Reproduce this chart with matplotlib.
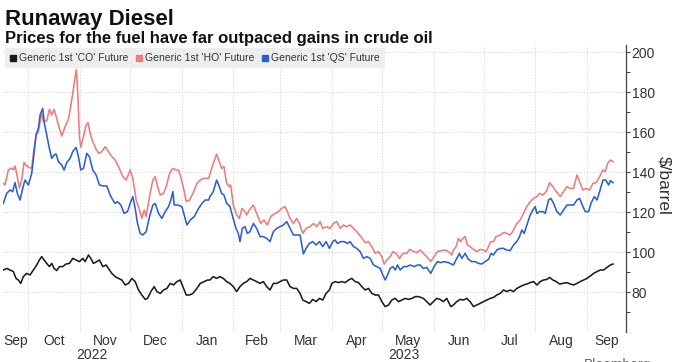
import numpy as np
import pandas as pd
import matplotlib
matplotlib.use('Agg')
import matplotlib.pyplot as plt
from matplotlib.lines import Line2D
from matplotlib import font_manager

# ---------------- data (days after 2022-09-15, $/barrel) ----------------
START = pd.Timestamp('2022-09-15')

ho_days = [1.2, 2.2, 4.2, 6.2, 7.2, 8.2, 9.2, 10.8, 12.2, 13.6, 15.2, 17.2, 18.2, 19.2, 20.8, 22.2,
           23.2, 24.2, 25.2, 27.2, 28.8, 30.2, 31.6, 33.2, 34.8, 36.2, 38.2, 40.2, 41.2, 42.8, 44.2,
           45.0, 45.8, 46.8, 47.6, 49.2, 50.8, 52.0, 53.2, 54.8, 56.8, 58.4, 60.2, 62.2, 64.2, 66.2,
           68.2, 70.2, 72.8, 74.8, 77.2, 78.8, 80.8, 82.8, 84.2, 85.6, 86.8, 88.8, 90.8, 92.2, 93.6,
           95.2, 97.2, 98.8, 100.8, 102.8, 104.8, 106.2, 107.2, 109.2, 110.8, 112.8, 114.8, 117.2,
           119.2, 121.2, 124.2,
           127, 129, 130.6, 132, 133.4, 135, 136.6, 137.4, 139, 141, 142.6, 144.2, 146, 147, 148.6,
           151, 153, 155.4, 157.4, 159.4, 161.4, 164, 166, 168, 170, 171.4, 173, 175, 177, 178.6,
           180.6, 182.6, 185, 187, 189, 191, 192.6, 195, 197, 199, 201, 203, 205, 207, 209, 211, 213,
           215.4, 218, 220, 222, 224, 226, 228, 229.4, 231, 233, 234.6, 236.6, 238.6, 240.6, 243,
           244.6, 247, 249,
           250.9, 252.9, 254.9, 257.3, 259.3, 261.3, 263.9, 265.9, 267.9, 269.9, 270.9, 272.5, 273.9,
           275.3, 276.5, 277.9, 279.3, 280.9, 282.9, 284.9, 286.9, 288.9, 290.5, 291.9, 293.3, 294.9,
           296.5, 298.9, 300.9, 302.9, 304.9, 306.9, 308.9, 310.9, 312.9, 314.9, 316.9, 318.9, 320.9,
           322.5, 324.5, 326.5, 328.5, 330.5, 332.5, 334.9, 336.9, 338.9, 340.9, 342.9, 344.9, 346.5,
           348.5, 350.5, 352.5, 354.5, 356.5, 358.5, 360.5, 361.9, 363.3, 364.9, 366.5]
ho_vals = [134.3, 133.5, 141, 142, 141, 143, 139.3, 132, 136, 144.7, 143, 142, 142, 149.3, 158.5, 160.2,
           165, 169.3, 165.2, 165.5, 171.3, 168.5, 171.3, 166.8, 161.8, 158, 162.7, 166.3, 171, 179.3, 187.7,
           191.3, 179.3, 157.7, 152.3, 157.7, 163.5, 164.7, 159.3, 155.2, 151.3, 149.3, 150.2, 152.7, 150.2, 147.7,
           146, 142.7, 137.7, 136, 141, 136.8, 126, 121, 116.8, 121, 117.7, 127.7, 136, 137.7, 132.7,
           128.5, 129.3, 132.7, 139.3, 141.8, 141, 141, 138.5, 131.8, 125.2, 126, 129.3, 134.3,
           136, 136.8, 136.8,
           144.3, 149, 145.2, 141.8, 142.7, 134.3, 132.7, 133.5, 123.5, 118.5, 116.8, 121.8, 120.2, 118.5, 121,
           123.5, 119.3, 114.3, 116, 113.5, 117.7, 119.3, 120.2, 121.8, 122.7, 120.2, 116.8, 114.3, 116.8, 114.3,
           109.3, 111.8, 112.7, 114.3, 112.7, 115.2, 111.8, 112.7, 111.8, 114.3, 115.2, 111.8, 113.5, 112.7, 113.5, 111.8, 110.2,
           107.7, 104.7, 105.2, 102.7, 99.3, 100.2, 97.7, 94, 96, 97.7, 100.2, 99.3, 96.8, 99.3, 99.3,
           101.3, 100.2, 99.7,
           101, 99.3, 97.7, 95.2, 97.7, 100.2, 100.7, 101, 100.2, 98.5, 101, 102.7, 106.8,
           105.2, 106.8, 107.7, 103.5, 102.7, 101.3, 100.2, 101.3, 101, 100.2, 102.7, 105.2, 105.2,
           107.7, 108.5, 109.7, 109.3, 108.5, 111, 114.3, 116, 119.3, 122.7, 125.2, 126.8, 127.7,
           129.3, 128.5, 130.2, 134.7, 132.7, 130.2, 127.7, 130.2, 132.7, 131.8, 131.8, 138.5, 135.2,
           131, 131.8, 131, 134.3, 134.7, 137.7, 141, 140.2, 144.3, 146, 145.2]

qs_days = [1.2, 3.2, 5.2, 6.8, 8.2, 9.6, 11.2, 12.8, 14.2, 16.2, 18.2, 19.6, 20.8, 22.2, 23.2, 24.8,
           25.8, 27.2, 28.8, 30.2, 31.6, 32.8, 34.2, 36.2, 37.6, 39.2, 41.2, 42.8, 44.8, 46.2, 47.6,
           49.2, 51.2, 52.8, 54.8, 56.8, 58.8, 61.2, 63.2, 65.2, 66.8, 68.2, 69.6, 71.6, 73.6, 75.6,
           77.2, 78.8, 80.2, 81.6, 83.2, 84.8, 86.8, 88.8, 90.8, 92.2, 94.2, 96.2, 98.2, 100.2, 101.6,
           102.8, 103.6, 105.6, 108.2, 109.6, 111.2, 113.2, 115.6, 118.2, 120.2, 122.2, 124.2,
           125, 127, 129, 130.6, 132, 133.4, 135, 137, 138.6, 140.6, 142, 143, 144.4, 146, 147.4, 149,
           151, 153, 155, 157, 159, 161, 163, 165, 167, 169, 171, 173, 175, 177, 179, 181, 182.6,
           184.6, 186.6, 188.6, 190.6, 192.6, 194.6, 196.6, 198.6, 200, 201.4, 203.4, 205.4, 207.4,
           209, 211, 213, 215, 217, 219, 221, 223, 225, 227, 228.6, 230, 231.4, 233, 234.6, 236,
           237.4, 239, 241, 243, 245, 247.4, 249.4,
           250.9, 252.9, 254.9, 257.3, 259.3, 261.3, 263.3, 265.3, 267.9, 270.9, 272.9, 274.5, 275.9,
           277.9, 279.9, 281.9, 283.9, 285.9, 287.9, 289.9, 291.9, 293.5, 294.9, 296.9, 298.9, 300.9,
           302.9, 304.9, 306.9, 308.9, 310.5, 311.9, 313.3, 314.9, 316.9, 318.5, 319.9, 320.9, 322.5,
           324.5, 325.9, 327.9, 329.3, 330.9, 332.9, 334.9, 336.9, 338.9, 340.9, 342.9, 344.9, 346.5,
           348.5, 349.9, 351.9, 353.3, 355.3, 356.9, 358.5, 360.5, 362.1, 363.9, 364.9, 366.5]
qs_vals = [124.3, 129.3, 131, 130.2, 134.7, 129.3, 126, 131.8, 136, 133.5, 139.3, 149.3, 158.5, 161.8, 168.5, 171.8,
           164.3, 158.5, 151.8, 146.8, 148.5, 149, 145.2, 143.5, 141, 144.7, 146.8, 150.2, 152.3, 147.7, 141,
           141.8, 149.3, 147.7, 141, 138.5, 133.5, 133, 133, 128.5, 126, 124.3, 125.2, 123.5, 119.3, 120.2,
           124.3, 127.7, 121.8, 114.3, 109.3, 108.5, 110.2, 117.7, 123.5, 124.3, 119.3, 116.8, 120.2, 122.7, 126,
           130.2, 123.5, 123.5, 122.7, 118.5, 113.5, 116, 117.7, 121.8, 124.3, 126, 126,
           127.7, 130.2, 136, 132.7, 129.3, 128.5, 124.3, 122.7, 117.7, 111.8, 109.3, 105.2, 111.8, 112.7, 109.3, 110.2,
           114.3, 111.8, 107.7, 107.7, 106.8, 105.2, 110.2, 111.8, 112.7, 113.5, 115.2, 111.8, 108.5, 108.5, 108.5, 99, 101.8,
           104.3, 105.2, 103.5, 105.2, 102.7, 105.2, 101.8, 105.2, 106, 104.3, 105.2, 105.2, 104.3,
           105.2, 102.7, 101.8, 100.2, 96.8, 97.7, 96.8, 93.5, 92.7, 91.8, 88.5, 86, 88.5, 91.8, 92.7, 91,
           93.5, 91, 92.7, 92.7, 93.5, 92.7, 93.5,
           93.5, 91.8, 92.3, 89.3, 92.7, 95.2, 94.7, 95.2, 94.7, 93.5, 96.8, 99.3, 96.8,
           99.3, 96.3, 95.2, 95.2, 94.3, 94, 95.2, 96.3, 99.3, 98.5, 101, 101.8, 101.8,
           101, 100.7, 103.5, 105.2, 107.7, 111, 109.3, 113.5, 118.5, 121, 122.7, 119.3, 120.2,
           120.2, 119.3, 126, 126.8, 124.3, 120.2, 118.5, 121, 123.5, 123.5, 123.5, 126, 126.8,
           122.7, 120.2, 120.2, 124.3, 127.7, 126, 130.2, 136, 136, 133.5, 135.7, 134.7]

co_days = [1.2, 3.2, 5.2, 7.2, 8.8, 10.2, 11.6, 13.2, 15.2, 17.2, 19.2, 21.2, 22.8, 24.2, 25.6, 27.2,
           28.8, 30.2, 31.6, 33.2, 34.8, 36.8, 38.8, 40.8, 42.8, 44.8, 46.8, 48.8, 50.2, 52.2, 53.6,
           55.2, 57.2, 58.8, 60.8, 62.8, 64.2, 66.2, 68.2, 70.2, 72.2, 74.2, 76.2, 78.2, 80.2, 82.2,
           84.2, 86.2, 87.6, 89.6, 91.6, 93.2, 95.2, 97.2, 99.2, 101.2, 103.2, 105.2, 107.2, 108.8,
           110.8, 112.8, 114.8, 117.2, 119.2, 121.6, 123.6,
           125, 127, 129, 131, 133, 135, 137, 139, 141, 143, 145, 147, 149, 151, 153, 155, 157, 159,
           161, 163, 165, 167, 169, 171, 173, 175, 177, 179, 180.6, 182.6, 184.6, 186.6, 188.6, 190.6,
           192.6, 194.6, 196.6, 198, 200, 202, 204, 206, 208, 210, 212, 214, 216, 218, 220, 222, 224,
           226, 228, 230, 232, 234, 236, 238, 240, 242, 244, 246, 248, 250,
           252.9, 254.9, 256.9, 258.9, 260.9, 262.9, 264.9, 266.9, 269.3, 270.9, 272.9, 274.9, 276.9,
           278.9, 280.9, 282.9, 284.9, 286.9, 288.9, 290.9, 292.9, 294.9, 296.9, 298.9, 300.9, 302.9,
           304.9, 306.9, 308.9, 310.9, 312.9, 314.9, 316.9, 318.9, 320.9, 322.9, 324.9, 326.9, 328.5,
           330.5, 332.5, 334.5, 336.5, 338.9, 340.9, 342.9, 344.9, 346.9, 348.9, 350.9, 352.9, 354.9,
           356.9, 358.9, 360.9, 362.9, 364.9, 366.5]
co_vals = [91, 91.8, 91, 90.2, 86.8, 86, 84.3, 87.7, 89.3, 88.5, 91, 93.5, 96, 97.7, 96, 94.3,
           92.7, 94.3, 91.8, 90.7, 92.7, 92.7, 94, 94.3, 96.8, 96, 95.2, 96.8, 95.2, 98.5, 96.8,
           94.3, 95.2, 96, 92.7, 93.5, 91.8, 89.3, 87.7, 86.8, 86, 83.5, 84.3, 86.8, 85.2, 81,
           78.5, 76.3, 76.8, 80.2, 82.7, 80.2, 79.3, 81, 81.8, 84.3, 83.5, 85.2, 86, 82.7,
           78.5, 78.5, 79.3, 81.8, 84.3, 85.2, 86,
           86, 87.7, 86.8, 87.7, 86.8, 85.2, 84.3, 82.7, 80.2, 82.7, 84.3, 85.2, 86.8, 86, 85.2, 84.3, 85.2, 82.7,
           81, 84.3, 84.3, 85.2, 86, 86, 82.7, 81.8, 81.8, 79.3, 76, 75.2, 74.3, 76.3, 75.2, 76.8,
           76, 79.3, 81, 84.3, 85.2, 84.7, 85.2, 84.7, 86, 86.8, 85.2, 84.7, 82.7, 81, 81.8, 79.3, 78.5,
           78.5, 75.2, 72.7, 73.5, 76, 76.8, 75.2, 76, 76.8, 76.3, 76.8, 77.7, 77.7,
           76.8, 75.2, 73.5, 75.2, 76.8, 76.3, 75.2, 76.8, 72.7, 73.5, 75.2, 76.3, 76,
           76.8, 75.2, 72.7, 73.5, 74.3, 75.2, 76, 76.8, 77.3, 78.5, 79.3, 81, 80.2,
           81, 80.2, 81.8, 82.7, 83.5, 84, 84.7, 85.2, 83.5, 85.2, 86, 86.3, 87.3,
           86, 85.2, 84, 84.3, 84.7, 84, 83.5, 84.3, 85.2, 86, 86.8, 88, 89.3,
           90.2, 91, 91, 92.3, 93.5, 94]

series_names = ["Generic 1st 'CO' Future", "Generic 1st 'HO' Future", "Generic 1st 'QS' Future"]
series_colors = ['#1c1c1c', '#f07b7b', '#2b5fd4']

y_major = [80, 100, 120, 140, 160, 180, 200]
y_minor = [70, 90, 110, 130, 150, 170, 190]

# ---------------- fonts ----------------
names = {f.name for f in font_manager.fontManager.ttflist}
narrow = 'Liberation Sans Narrow' if 'Liberation Sans Narrow' in names else 'Liberation Sans'
plt.rcParams['font.family'] = [narrow, 'DejaVu Sans']

W, H = 676, 362
fig = plt.figure(figsize=(W / 100, H / 100), dpi=100)
fig.patch.set_facecolor('white')

left, right, top, bottom = 3, 626, 45, 332
ax = fig.add_axes([left / W, 1 - bottom / H, (right - left) / W, (bottom - top) / H])

def to_dates(days):
    return START + pd.to_timedelta(np.array(days), unit='D')

ax.plot(to_dates(ho_days), ho_vals, color=series_colors[1], lw=1.15, zorder=3)
ax.plot(to_dates(qs_days), qs_vals, color=series_colors[2], lw=1.15, zorder=4)
ax.plot(to_dates(co_days), co_vals, color=series_colors[0], lw=1.15, zorder=5)

x0 = START + pd.Timedelta(days=1.0)
x1 = START + pd.Timedelta(days=374.3)
ax.set_xlim(x0, x1)
ax.set_ylim(60, 203.5)

# month gridlines (major) and centred month labels (minor)
month_starts = pd.date_range('2022-10-01', '2023-09-01', freq='MS')
ax.set_xticks(month_starts)
ax.set_xticklabels([])
ax.tick_params(axis='x', which='major', length=0)
bounds = [x0] + list(month_starts) + [x1]
centers, labels = [], []
for a, b in zip(bounds[:-1], bounds[1:]):
    centers.append(a + (b - a) / 2)
    labels.append(a.strftime('%b'))
ax.set_xticks(centers, minor=True)
ax.set_xticklabels(labels, minor=True, fontsize=10, color='#333333')
ax.tick_params(axis='x', which='minor', length=0, pad=1.5)

for yr_date, yr in [('2022-11-08', '2022'), ('2023-05-14', '2023')]:
    ax.text(pd.Timestamp(yr_date), -0.081, yr, transform=ax.get_xaxis_transform(),
            ha='center', va='center', fontsize=10, color='#333333')

# y axis on the right
ax.yaxis.tick_right()
ax.set_yticks(y_major)
ax.set_yticks(y_minor, minor=True)
ax.tick_params(axis='y', which='major', length=3, width=0.8, color='#444444', labelsize=10,
               labelcolor='#333333', pad=1)
ax.tick_params(axis='y', which='minor', length=3, width=0.8, color='#444444')
ax.yaxis.set_label_position('right')
ax.set_ylabel('$/barrel', rotation=-90, fontsize=12.5, color='#333333', ha='center', va='center')
ax.yaxis.set_label_coords((664 - left) / (right - left), 0.51)

for s in ['left', 'top', 'bottom']:
    ax.spines[s].set_visible(False)
ax.spines['right'].set_color('#444444')
ax.spines['right'].set_linewidth(0.9)

ax.grid(True, which='major', axis='both', color='#dcdcdc', lw=0.7, ls=(0, (1.5, 1.5)))
ax.set_axisbelow(True)

# legend
handles = [Line2D([], [], marker='s', ls='none', color=c, markersize=5) for c in series_colors]
leg = ax.legend(handles, series_names, loc='upper left', bbox_to_anchor=(5 / W, 1 - 48 / H),
                bbox_transform=fig.transFigure, ncol=3, frameon=True, fontsize=7.5,
                handlelength=0.6, handletextpad=0.2, columnspacing=0.8, borderpad=0.5,
                borderaxespad=0, fancybox=False)
leg.get_frame().set_facecolor('#eeeeee')
leg.get_frame().set_edgecolor('none')
leg.get_frame().set_alpha(1)
for t in leg.get_texts():
    t.set_color('#333333')
leg.set_zorder(10)

# titles
fig.text(5 / W, 1 - 25 / H, 'Runaway Diesel', fontsize=16, fontweight='bold',
         family=['Liberation Sans', 'DejaVu Sans'], color='#111111', va='baseline')
fig.text(5 / W, 1 - 43 / H, 'Prices for the fuel have far outpaced gains in crude oil', fontsize=12,
         fontweight='bold', family=['Liberation Sans', 'DejaVu Sans'], color='#111111', va='baseline')
fig.text(584 / W, 1 - 369 / H, 'Bloomberg', fontsize=10, color='#666666', va='baseline')

fig.savefig('out.png', dpi=100)
